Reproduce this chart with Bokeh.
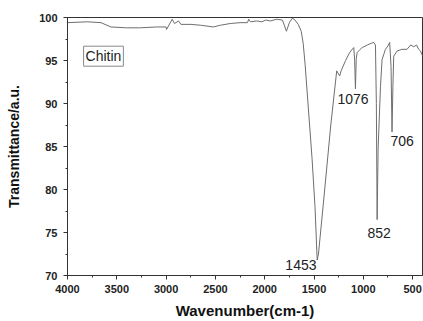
from bokeh.plotting import figure
from bokeh.models import Range1d, SingleIntervalTicker, Label
from bokeh.embed import file_html
from bokeh.resources import INLINE

# FTIR spectrum of chitin
wavenumber = [4000, 3800, 3660, 3560, 3400, 3260, 3100, 3000, 2996, 2938, 2915,
              2874, 2850, 2750, 2650, 2520, 2450, 2350, 2250, 2175, 2162, 2145,
              2080, 2030, 1990, 1940, 1880, 1820, 1780, 1750, 1722, 1700, 1660,
              1630, 1610, 1590, 1520, 1490, 1468, 1455, 1400, 1330, 1270, 1240,
              1225, 1180, 1140, 1113, 1097, 1088, 1080, 1072, 1063, 1040, 1012,
              960, 920, 894, 877, 868, 860, 850, 826, 810, 776, 750, 733, 719,
              709, 700, 692, 658, 610, 557, 520, 489, 460, 439, 420, 405, 400]
transmittance = [99.4, 99.5, 99.4, 98.9, 98.8, 98.8, 98.9, 98.9, 98.6, 99.8, 99.3,
                 99.6, 99.2, 99.2, 99.1, 98.9, 99.1, 99.3, 99.4, 99.4, 99.8, 99.5,
                 99.6, 99.5, 99.7, 99.6, 99.8, 99.7, 98.4, 99.4, 99.9, 99.8, 99.2,
                 98.4, 97.0, 94.5, 83.6, 78.0, 71.8, 72.5, 79.0, 87.5, 93.8, 93.2,
                 93.8, 95.0, 95.9, 96.3, 96.5, 95.0, 91.7, 95.2, 95.9, 96.2, 96.5,
                 96.8, 97.0, 97.1, 96.8, 90.0, 76.5, 84.8, 92.0, 95.1, 96.3, 96.7,
                 97.1, 94.3, 86.7, 92.0, 95.5, 96.1, 96.3, 96.3, 96.8, 96.6, 96.8,
                 96.3, 96.1, 95.7, 95.5]

peak_labels = ["1453", "1076", "852", "706"]
peak_label_x = [1475, 1105, 840, 607]
peak_label_y = [71.2, 90.5, 75.0, 85.6]
peak_label_align = ["right", "center", "center", "center"]

sample_name = "Chitin"
x_ticks_interval = 500
y_ticks_interval = 5

p = figure(width=423, height=321, output_backend="svg", toolbar_location=None,
           x_range=Range1d(4000, 400), y_range=Range1d(70, 100),
           min_border_left=67, min_border_right=1, min_border_top=17,
           min_border_bottom=42)
p.background_fill_color = "white"
p.border_fill_color = "white"
p.outline_line_color = "#333333"
p.outline_line_width = 1
p.xgrid.visible = False
p.ygrid.visible = False

p.line(wavenumber, transmittance, line_color="#6e6e6e", line_width=1)

p.xaxis.ticker = SingleIntervalTicker(interval=x_ticks_interval, num_minor_ticks=2)
p.yaxis.ticker = SingleIntervalTicker(interval=y_ticks_interval, num_minor_ticks=2)

for ax in (p.xaxis[0], p.yaxis[0]):
    ax.axis_line_color = "#333333"
    ax.major_tick_line_color = "#333333"
    ax.minor_tick_line_color = "#333333"
    ax.major_tick_in = 0
    ax.major_tick_out = 4
    ax.minor_tick_in = 0
    ax.minor_tick_out = 2
    ax.major_label_text_font = "Liberation Sans"
    ax.major_label_text_font_style = "bold"
    ax.major_label_text_font_size = "11px"
    ax.major_label_text_color = "#222222"
    ax.axis_label_text_font = "Liberation Sans"
    ax.axis_label_text_font_style = "bold"
    ax.axis_label_text_color = "#111111"

p.xaxis.axis_label = "Wavenumber(cm-1)"
p.yaxis.axis_label = "Transmittance/a.u."
p.xaxis.axis_label_text_font_size = "15px"
p.yaxis.axis_label_text_font_size = "14px"
p.xaxis.major_label_standoff = 5
p.yaxis.major_label_standoff = 6
p.xaxis.axis_label_standoff = 6
p.yaxis.axis_label_standoff = 14

for txt, x, y, al in zip(peak_labels, peak_label_x, peak_label_y, peak_label_align):
    p.add_layout(Label(x=x, y=y, text=txt, text_align=al, text_baseline="middle",
                       text_font="Liberation Sans", text_font_size="14px",
                       text_color="#222222"))

p.add_layout(Label(x=3635, y=95.5, text=sample_name, text_align="center",
                   text_baseline="middle", text_font="Liberation Sans",
                   text_font_size="14px", text_color="#222222",
                   border_line_color="#888888", border_line_width=1,
                   background_fill_color="white", padding=2))

open("out.html", "w").write(file_html(p, INLINE))
